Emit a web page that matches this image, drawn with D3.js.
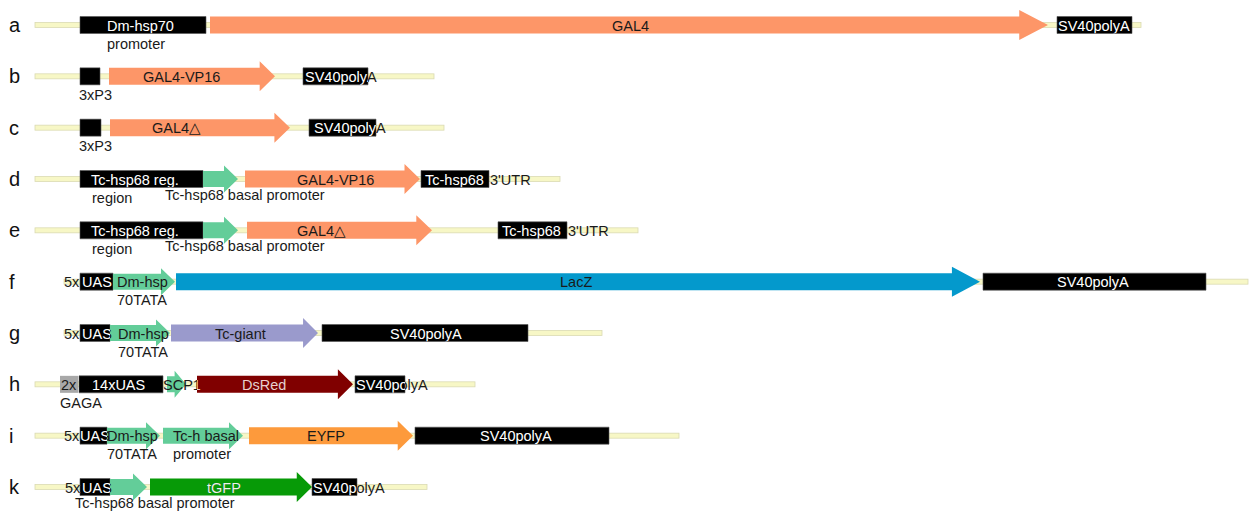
<!DOCTYPE html>
<html lang="en">
<head>
  <meta charset="UTF-8">
  <title>Constructs</title>
  <script src="https://cdn.jsdelivr.net/npm/d3@7"></script>
  <style>
    body { margin: 0; background: #fff; }
    svg { font-family: "Liberation Sans", Arial, sans-serif; }
  </style>
</head>
<body>
  <svg width="1251" height="513"></svg>
  <script>
    // construct rows
    var rows = ["a", "b", "c", "d", "e", "f", "g", "h", "i", "k"];
    var backboneFrom = [35, 35, 35, 35, 35, 64, 64, 35, 35, 35];
    var backboneTo = [1141, 434, 444, 560, 638, 1248, 602, 475, 679, 427];

    // elements: [kind, from, to]
    var partsA = [["black", 80, 206], ["gal4", 210, 1048], ["black", 1057, 1132]];
    var partsB = [["black", 80, 100], ["gal4", 109, 275], ["black", 303, 368]];
    var partsC = [["black", 80, 101], ["gal4", 110, 290], ["black", 309, 376]];
    var partsD = [["black", 80, 203], ["prom", 203, 238], ["gal4", 245, 420], ["black", 421, 489]];
    var partsE = [["black", 80, 203], ["prom", 203, 238], ["gal4", 247, 432], ["black", 498, 567]];
    var partsF = [["black", 80, 113], ["prom", 113, 175], ["lacz", 176, 980], ["black", 983, 1206]];
    var partsG = [["black", 80, 110], ["prom", 110, 170], ["giant", 171, 318], ["black", 322, 528]];
    var partsH = [["gray", 60, 78], ["black", 79, 163], ["prom", 167, 186], ["dsred", 197, 353], ["black", 355, 405]];
    var partsI = [["black", 80, 107], ["prom", 107, 160], ["prom", 163, 243], ["eyfp", 249, 413], ["black", 415, 609]];
    var partsK = [["black", 80, 110], ["prom", 110, 147], ["tgfp", 150, 312], ["black", 312, 357]];

    // labels: [left, text, line below the row]
    var labelsA = [[107, "Dm-hsp70", 0], [107, "promoter", 1], [612, "GAL4", 0], [1058, "SV40polyA", 0]];
    var labelsB = [[79, "3xP3", 1], [143, "GAL4-VP16", 0], [305, "SV40polyA", 0]];
    var labelsC = [[79, "3xP3", 1], [152, "GAL4\u25b3", 0], [314, "SV40polyA", 0]];
    var labelsD = [[91, "Tc-hsp68 reg.", 0], [92, "region", 1], [165, "Tc-hsp68 basal promoter", 0.85],
                   [297, "GAL4-VP16", 0], [425, "Tc-hsp68", 0], [490, "3'UTR", 0]];
    var labelsE = [[91, "Tc-hsp68 reg.", 0], [92, "region", 1], [165, "Tc-hsp68 basal promoter", 0.85],
                   [297, "GAL4\u25b3", 0], [502, "Tc-hsp68", 0], [568, "3'UTR", 0]];
    var labelsF = [[64, "5x", 0], [82, "UAS", 0], [117, "Dm-hsp", 0], [117, "70TATA", 1],
                   [560, "LacZ", 0], [1057, "SV40polyA", 0]];
    var labelsG = [[64, "5x", 0], [82, "UAS", 0], [118, "Dm-hsp", 0], [118, "70TATA", 1],
                   [215, "Tc-giant", 0], [390, "SV40polyA", 0]];
    var labelsH = [[61, "2x", 0], [60, "GAGA", 1], [92, "14xUAS", 0], [163, "SCP1", 0],
                   [242, "DsRed", 0], [356, "SV40polyA", 0]];
    var labelsI = [[64, "5x", 0], [80, "UAS", 0], [107, "Dm-hsp", 0], [107, "70TATA", 1],
                   [173, "Tc-h basal", 0], [173, "promoter", 1], [307, "EYFP", 0], [480, "SV40polyA", 0]];
    var labelsK = [[65, "5x", 0], [82, "UAS", 0], [75, "Tc-hsp68 basal promoter", 0.85],
                   [207, "tGFP", 0], [313, "SV40polyA", 0]];

    var parts = [partsA, partsB, partsC, partsD, partsE, partsF, partsG, partsH, partsI, partsK];
    var labels = [labelsA, labelsB, labelsC, labelsD, labelsE, labelsF, labelsG, labelsH, labelsI, labelsK];

    var svg = d3.select("svg");

    var x = d3.scaleLinear().domain([0, 1251]).range([0, 1251]);
    var y = d3.scalePoint().domain(rows).range([25, 487]);

    var fill = d3.scaleOrdinal()
      .domain(["black", "gray", "prom", "gal4", "lacz", "giant", "dsred", "eyfp", "tgfp"])
      .range(["#000000", "#a8a8a8", "#63cd99", "#fd9668", "#0499cc", "#9a9acc", "#800000", "#fd9a3c", "#079a07"]);

    // text drawn over these shapes changes colour
    var contrast = { black: "#ffffff", dsred: "#f4cccc", tgfp: "#eaf7ea" };

    function shape(p, cy) {
      var k = p[0], x0 = x(p[1]), x1 = x(p[2]);
      if (k == "black" || k == "gray") {
        return "M" + x0 + "," + (cy - 8.5) + "H" + x1 + "V" + (cy + 8.5) + "H" + x0 + "Z";
      }
      var hb, hh, hl;
      if (k == "prom") {
        hb = 8; hh = 13.5; hl = Math.min(14, (x1 - x0) * 0.6);
      } else {
        hb = 8.5; hh = 15; hl = 12 + (x1 - x0) * 0.02;
      }
      var xh = x1 - hl;
      return "M" + x0 + "," + (cy - hb) + "H" + xh + "V" + (cy - hh) + "L" + x1 + "," + cy +
        "L" + xh + "," + (cy + hh) + "V" + (cy + hb) + "H" + x0 + "Z";
    }

    function baseline(cy, line) {
      return cy + 5.5 + line * 18;
    }

    var defs = svg.append("defs");

    rows.forEach(function (r, i) {
      var cy = y(r);
      var g = svg.append("g").attr("class", "row");

      g.append("text")
        .attr("x", 9)
        .attr("y", cy + 7)
        .attr("font-size", 20)
        .attr("fill", "#111")
        .text(r);

      g.append("rect")
        .attr("x", x(backboneFrom[i]))
        .attr("y", cy - 2.5)
        .attr("width", x(backboneTo[i]) - x(backboneFrom[i]))
        .attr("height", 5)
        .attr("fill", "#f7f7c6")
        .attr("stroke", "#dadab2")
        .attr("stroke-width", 0.8);

      g.selectAll(".part")
        .data(parts[i])
        .enter()
        .append("path")
        .attr("class", "part")
        .attr("d", function (p) { return shape(p, cy); })
        .attr("fill", function (p) { return fill(p[0]); })
        .attr("stroke", function (p) { return p[0] == "black" ? "#555" : "none"; })
        .attr("stroke-width", 0.6);

      g.selectAll(".lbl")
        .data(labels[i])
        .enter()
        .append("text")
        .attr("class", "lbl")
        .attr("x", function (d) { return x(d[0]); })
        .attr("y", function (d) { return baseline(cy, d[2]); })
        .attr("font-size", 14.5)
        .attr("fill", "#1a1a1a")
        .text(function (d) { return d[1]; });

      // recolour the part of each label that sits on a dark shape
      parts[i].forEach(function (p, j) {
        if (!contrast[p[0]]) return;
        var id = "clip-" + r + "-" + j;
        defs.append("clipPath").attr("id", id)
          .append("path").attr("d", shape(p, cy));
        g.append("g")
          .attr("clip-path", "url(#" + id + ")")
          .selectAll("text")
          .data(labels[i].filter(function (d) { return d[2] == 0; }))
          .enter()
          .append("text")
          .attr("x", function (d) { return x(d[0]); })
          .attr("y", function (d) { return baseline(cy, d[2]); })
          .attr("font-size", 14.5)
          .attr("fill", contrast[p[0]])
          .text(function (d) { return d[1]; });
      });
    });
  </script>
</body>
</html>
